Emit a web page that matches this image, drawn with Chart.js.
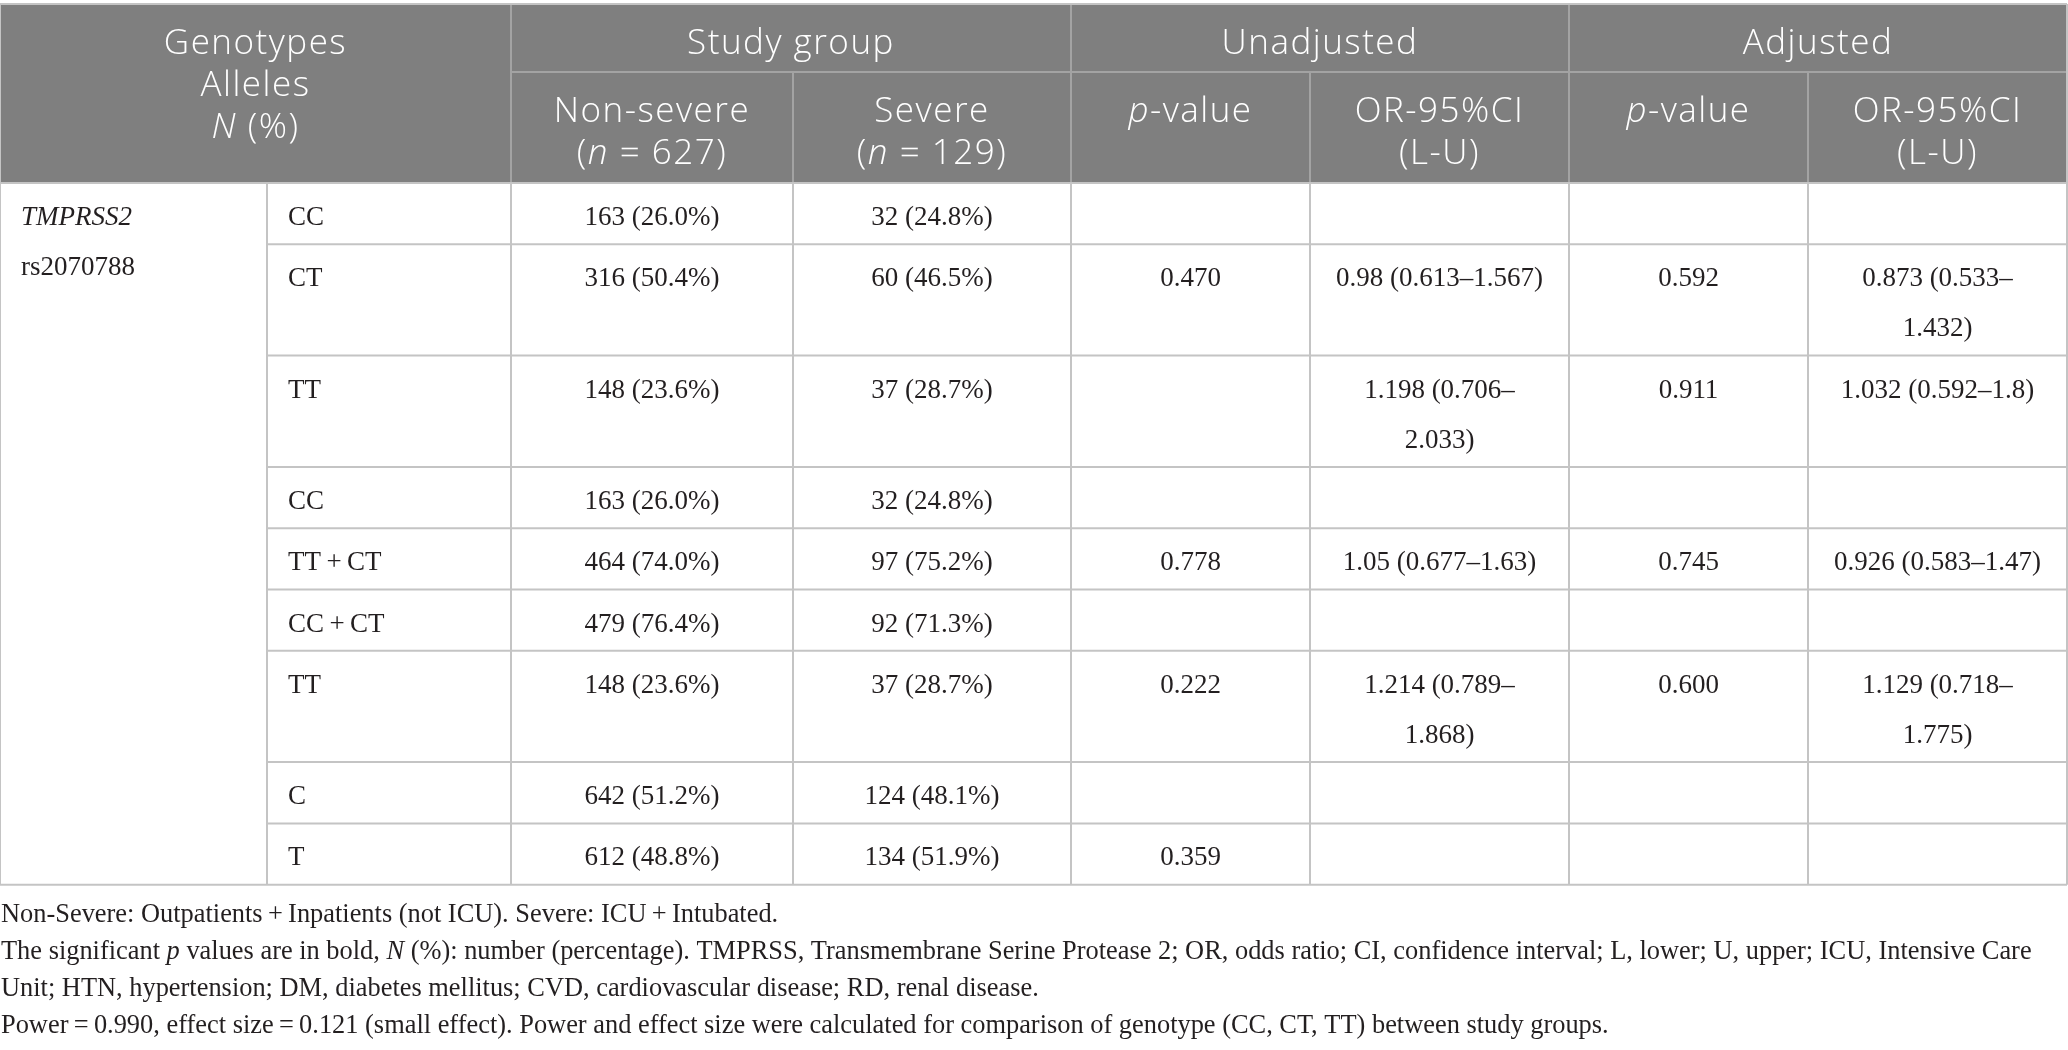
<!DOCTYPE html>
<html><head><meta charset="utf-8">
<script src="https://cdn.jsdelivr.net/npm/chart.js@4.4.1/dist/chart.umd.min.js"></script>
<style>html,body{margin:0;padding:0;background:#fff;overflow:hidden}</style>
</head><body>
<canvas id="c" width="2068" height="1050"></canvas>
<script>
// ---------- DATA ----------
const headerTop = ['Genotypes\nAlleles\n*N* (%)', 'Study group', 'Unadjusted', 'Adjusted'];
const headerSub = ['Non-severe\n(*n* = 627)', 'Severe\n(*n* = 129)', '*p*-value', 'OR-95%CI\n(L-U)', '*p*-value', 'OR-95%CI\n(L-U)'];
const geneLabel = ['*TMPRSS2*', 'rs2070788'];
const genotypes = ['CC', 'CT', 'TT', 'CC', 'TT\u2009+\u2009CT', 'CC\u2009+\u2009CT', 'TT', 'C', 'T'];
const nonSevereN   = [163, 316, 148, 163, 464, 479, 148, 642, 612];
const nonSeverePct = [26.0, 50.4, 23.6, 26.0, 74.0, 76.4, 23.6, 51.2, 48.8];
const severeN      = [32, 60, 37, 32, 97, 92, 37, 124, 134];
const severePct    = [24.8, 46.5, 28.7, 24.8, 75.2, 71.3, 28.7, 48.1, 51.9];
const unadjP  = [null, 0.470, null, null, 0.778, null, 0.222, null, 0.359];
const unadjOR = [null, 0.98, 1.198, null, 1.05, null, 1.214, null, null];
const unadjL  = [null, 0.613, 0.706, null, 0.677, null, 0.789, null, null];
const unadjU  = [null, 1.567, 2.033, null, 1.63, null, 1.868, null, null];
const adjP    = [null, 0.592, 0.911, null, 0.745, null, 0.600, null, null];
const adjOR   = [null, 0.873, 1.032, null, 0.926, null, 1.129, null, null];
const adjL    = [null, 0.533, 0.592, null, 0.583, null, 0.718, null, null];
const adjU    = [null, 1.432, 1.8, null, 1.47, null, 1.775, null, null];
const footnotes = [
  'Non-Severe: Outpatients\u2009+\u2009Inpatients (not ICU). Severe: ICU\u2009+\u2009Intubated.',
  'The significant *p* values are in bold, *N* (%): number (percentage). TMPRSS, Transmembrane Serine Protease 2; OR, odds ratio; CI, confidence interval; L, lower; U, upper; ICU, Intensive Care',
  'Unit; HTN, hypertension; DM, diabetes mellitus; CVD, cardiovascular disease; RD, renal disease.',
  'Power\u2009=\u20090.990, effect size\u2009=\u20090.121 (small effect). Power and effect size were calculated for comparison of genotype (CC, CT, TT) between study groups.'
];

// ---------- LAYOUT / STYLE ----------
const W = 2068, H = 1050;
const colEdges = [0, 267, 511, 793, 1071, 1310, 1569, 1808, 2067];
const headRows = [4, 72, 183];
const bodyTop = 183;
const rowBase = 61.3, lineH = 50, cellPad = 22;
const headLineH = 42, headBase = 50;
const headFont = '300 35px "Open Sans"', headFontI = 'italic 300 35px "Open Sans"';
const bodyFont = '27px "Liberation Serif"', bodyFontI = 'italic 27px "Liberation Serif"';
const noteFont = '26.4px "Liberation Serif"', noteFontI = 'italic 26.4px "Liberation Serif"';
const noteTop = 922, noteLineH = 37;
const headBg = '#7f7f7f', headLine = '#a3a3a3', bodyLine = '#c4c4c4', textCol = '#231f20';

const fmtN = (n, p) => n + ' (' + p.toFixed(1) + '%)';
const fmtP = v => v == null ? '' : v.toFixed(3);
const fmtOR = (o, l, u) => o == null ? '' : o + ' (' + l + '\u2013' + u + ')';

function segs(str) { return str.split('*').map((t, i) => ({ t, it: i % 2 === 1 })).filter(s => s.t.length); }
function richWidth(ctx, str, f, fi) {
  let w = 0; for (const s of segs(str)) { ctx.font = s.it ? fi : f; w += ctx.measureText(s.t).width; } return w;
}
function drawRich(ctx, str, x, y, align, f, fi) {
  const w = richWidth(ctx, str, f, fi);
  let cx = align === 'center' ? x - w / 2 : x;
  for (const s of segs(str)) { ctx.font = s.it ? fi : f; ctx.fillText(s.t, cx, y); cx += ctx.measureText(s.t).width; }
}

const tablePlugin = {
  id: 'table',
  afterDraw(chart) {
    const ctx = chart.ctx, sx = chart.scales.x, sy = chart.scales.y;
    const X = v => sx.getPixelForValue(v), Y = v => sy.getPixelForValue(v);
    ctx.save();
    ctx.textAlign = 'left'; ctx.textBaseline = 'alphabetic';
    const hasLS = ctx.letterSpacing !== undefined;
    if (hasLS) ctx.letterSpacing = '0px';

    const nRows = genotypes.length;
    const rowCells = [];
    for (let i = 0; i < nRows; i++) {
      rowCells.push([
        [genotypes[i]],
        [fmtN(nonSevereN[i], nonSeverePct[i])],
        [fmtN(severeN[i], severePct[i])],
        [fmtP(unadjP[i])],
        [fmtOR(unadjOR[i], unadjL[i], unadjU[i])],
        [fmtP(adjP[i])],
        [fmtOR(adjOR[i], adjL[i], adjU[i])]
      ]);
    }
    ctx.font = bodyFont;
    rowCells.forEach(cells => cells.forEach((c, j) => {
      const cw = colEdges[j + 2] - colEdges[j + 1] - 2 * cellPad;
      if (ctx.measureText(c[0]).width > cw && c[0].indexOf('\u2013') > 0) {
        const k = c[0].indexOf('\u2013') + 1;
        cells[j] = [c[0].slice(0, k), c[0].slice(k)];
      }
    }));
    const rowEdges = [bodyTop];
    rowCells.forEach(cells => {
      const n = Math.max(...cells.map(c => c.length));
      rowEdges.push(rowEdges[rowEdges.length - 1] + rowBase + lineH * (n - 1));
    });
    const bodyBottom = rowEdges[rowEdges.length - 1];

    ctx.fillStyle = headBg;
    ctx.fillRect(X(colEdges[0]), Y(headRows[0]), X(colEdges[8]) - X(colEdges[0]), Y(headRows[2]) - Y(headRows[0]));

    ctx.strokeStyle = headLine; ctx.lineWidth = 2;
    const line = (x1, y1, x2, y2) => { ctx.beginPath(); ctx.moveTo(X(x1), Y(y1)); ctx.lineTo(X(x2), Y(y2)); ctx.stroke(); };
    line(colEdges[2], headRows[1], colEdges[8], headRows[1]);
    [2, 4, 6].forEach(k => line(colEdges[k], headRows[0], colEdges[k], headRows[2]));
    [3, 5, 7].forEach(k => line(colEdges[k], headRows[1], colEdges[k], headRows[2]));

    ctx.strokeStyle = bodyLine;
    line(colEdges[0], headRows[0], colEdges[8], headRows[0]);
    for (let r = 1; r < rowEdges.length - 1; r++) line(colEdges[1], rowEdges[r], colEdges[8], rowEdges[r]);
    line(colEdges[0], bodyTop, colEdges[8], bodyTop);
    line(colEdges[0], bodyBottom, colEdges[8], bodyBottom);
    line(colEdges[0], headRows[0], colEdges[0], bodyBottom);
    line(colEdges[8], headRows[0], colEdges[8], bodyBottom);
    for (let k = 1; k < 8; k++) line(colEdges[k], bodyTop, colEdges[k], bodyBottom);

    ctx.fillStyle = '#ffffff';
    if (hasLS) ctx.letterSpacing = '1.5px';
    const topSpans = [[0, 2], [2, 4], [4, 6], [6, 8]];
    headerTop.forEach((t, i) => {
      const cx = (colEdges[topSpans[i][0]] + colEdges[topSpans[i][1]]) / 2;
      t.split('\n').forEach((ln, k) => drawRich(ctx, ln, X(cx), Y(headRows[0] + headBase + k * headLineH), 'center', headFont, headFontI));
    });
    headerSub.forEach((t, i) => {
      const cx = (colEdges[i + 2] + colEdges[i + 3]) / 2;
      t.split('\n').forEach((ln, k) => drawRich(ctx, ln, X(cx), Y(headRows[1] + headBase + k * headLineH), 'center', headFont, headFontI));
    });
    if (hasLS) ctx.letterSpacing = '0px';

    ctx.fillStyle = textCol;
    geneLabel.forEach((t, k) => drawRich(ctx, t, X(colEdges[0] + 21), Y(bodyTop + 42 + k * lineH), 'left', bodyFont, bodyFontI));
    rowCells.forEach((cells, r) => {
      cells.forEach((c, j) => {
        c.forEach((ln, k) => {
          const y = Y(rowEdges[r] + 42 + k * lineH);
          if (j === 0) drawRich(ctx, ln, X(colEdges[1] + 21), y, 'left', bodyFont, bodyFontI);
          else drawRich(ctx, ln, X((colEdges[j + 1] + colEdges[j + 2]) / 2), y, 'center', bodyFont, bodyFontI);
        });
      });
    });

    footnotes.forEach((t, k) => drawRich(ctx, t, X(1), Y(noteTop + k * noteLineH), 'left', noteFont, noteFontI));
    ctx.restore();
  }
};

new Chart(document.getElementById('c'), {
  type: 'scatter',
  data: { datasets: [{ data: [], pointRadius: 0 }] },
  options: {
    responsive: false, animation: false, devicePixelRatio: 1,
    layout: { padding: 0 },
    plugins: { legend: { display: false }, tooltip: { enabled: false } },
    scales: {
      x: { type: 'linear', min: 0, max: W, display: false },
      y: { type: 'linear', min: 0, max: H, reverse: true, display: false }
    }
  },
  plugins: [tablePlugin]
});
</script>
</body></html>
